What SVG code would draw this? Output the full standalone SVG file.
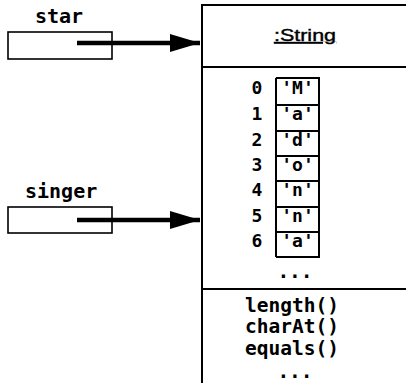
<svg xmlns="http://www.w3.org/2000/svg" width="406" height="383" viewBox="0 0 406 383">
<style>
.mono{font-family:"DejaVu Sans Mono","Liberation Mono",monospace;font-weight:bold;fill:#000}
.lbl{font-size:20px}
.arr{font-size:18px;text-anchor:middle}
.meth{font-size:19.5px}
.box{fill:#fff;stroke:#000;stroke-width:2}
.vbox{fill:none;stroke:#000;stroke-width:1.6}
.ln{stroke:#000;stroke-width:2;fill:none}
.conn{stroke:#000;stroke-width:4.5;fill:none}
</style>
<defs>
<marker id="ah" markerUnits="userSpaceOnUse" markerWidth="32" markerHeight="18" refX="30" refY="9" orient="auto">
<path d="M0,0 L30,9 L0,18 Z" fill="#000"/>
</marker>
</defs>
<rect width="406" height="383" fill="#fff"/>
<g id="string-object">
<rect class="box" x="202" y="5" width="220" height="400"/>
<line class="ln" x1="202" y1="67" x2="406" y2="67"/>
<line class="ln" x1="202" y1="289" x2="406" y2="289"/>
<text x="305" y="41" font-family="Liberation Sans, Arial, sans-serif" font-size="17" text-anchor="middle" text-decoration="underline" textLength="62" lengthAdjust="spacingAndGlyphs" stroke="#000" stroke-width="0.4">:String</text>
</g>
<g id="char-array">
<line class="ln" x1="276" y1="78" x2="276" y2="257"/>
<line class="ln" x1="319" y1="78" x2="319" y2="258"/>
<line class="ln" x1="276" y1="78" x2="320" y2="78"/>
<line class="ln" x1="276" y1="105" x2="320" y2="105"/>
<line class="ln" x1="276" y1="131" x2="320" y2="131"/>
<line class="ln" x1="276" y1="156" x2="320" y2="156"/>
<line class="ln" x1="276" y1="181" x2="320" y2="181"/>
<line class="ln" x1="276" y1="207" x2="320" y2="207"/>
<line class="ln" x1="276" y1="232" x2="320" y2="232"/>
<line class="ln" x1="276" y1="257" x2="320" y2="257"/>
<text class="mono arr" x="257" y="94">0</text>
<text class="mono arr" x="257" y="120">1</text>
<text class="mono arr" x="257" y="146">2</text>
<text class="mono arr" x="257" y="171">3</text>
<text class="mono arr" x="257" y="196">4</text>
<text class="mono arr" x="257" y="222">5</text>
<text class="mono arr" x="257" y="247">6</text>
<text class="mono arr" x="297.5" y="94">'M'</text>
<text class="mono arr" x="297.5" y="120">'a'</text>
<text class="mono arr" x="297.5" y="146">'d'</text>
<text class="mono arr" x="297.5" y="171">'o'</text>
<text class="mono arr" x="297.5" y="196">'n'</text>
<text class="mono arr" x="297.5" y="222">'n'</text>
<text class="mono arr" x="297.5" y="247">'a'</text>
<text class="mono meth" x="295" y="278" text-anchor="middle">...</text>
</g>
<g id="methods">
<text class="mono meth" x="245" y="312">length()</text>
<text class="mono meth" x="245" y="333">charAt()</text>
<text class="mono meth" x="245" y="355">equals()</text>
<text class="mono meth" x="295" y="378" text-anchor="middle">...</text>
</g>
<g id="star">
<text class="mono lbl" x="35" y="23">star</text>
<rect class="vbox" x="8" y="32" width="104" height="27"/>
</g>
<g id="singer">
<text class="mono lbl" x="25" y="198">singer</text>
<rect class="vbox" x="8" y="207" width="104" height="26"/>
</g>
<g id="connectors">
<line class="conn" x1="77" y1="43" x2="200" y2="43" marker-end="url(#ah)"/>
<line class="conn" x1="77" y1="220" x2="200" y2="220" marker-end="url(#ah)"/>
</g>
</svg>
